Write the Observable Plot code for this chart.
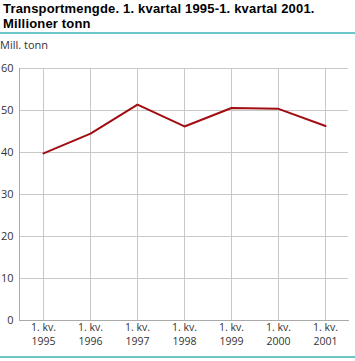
<!DOCTYPE html>
<html><head><meta charset="utf-8">
<script src="https://cdn.jsdelivr.net/npm/d3@7"></script>
<script src="https://cdn.jsdelivr.net/npm/@observablehq/plot@0.6"></script>
<style>
body{margin:0;background:#fff;width:355px;height:361px;position:relative;overflow:hidden;font-family:"Open Sans",sans-serif;}
.title{position:absolute;left:3px;font-family:"Liberation Sans",Arial,sans-serif;font-weight:bold;font-size:13px;line-height:14.6px;height:14.6px;color:#000;white-space:nowrap;letter-spacing:0.18px;}
#t1{top:2px;}
#t2{top:16.6px;}
#rule1{position:absolute;left:0;top:32px;width:355px;height:2px;background:#6cc8c8;}
#unit{position:absolute;left:0;top:37px;font-size:11px;color:#333;}
#chart{position:absolute;left:0;top:55px;}
#rule2{position:absolute;left:0;top:356px;width:355px;height:2px;background:#6cc8c8;}
</style></head><body>
<div class="title" id="t1">Transportmengde. 1. kvartal 1995-1. kvartal 2001.</div>
<div class="title" id="t2">Millioner tonn</div>
<div id="rule1"></div>
<div id="unit">Mill. tonn</div>
<div id="chart"></div>
<div id="rule2"></div>
<script>
const years = ["1995","1996","1997","1998","1999","2000","2001"];
const quarterLabel = "1. kv.";
const values = [39.8, 44.5, 51.4, 46.2, 50.6, 50.4, 46.3];
const yTicks = [0,10,20,30,40,50,60];
const data = years.map((y,i)=>({year: y, v: values[i]}));
const grid = "#c8c8c8";
const chart = Plot.plot({
  width: 355, height: 300,
  marginLeft: 19, marginRight: 7, marginTop: 13, marginBottom: 35,
  style: {fontFamily: '"Open Sans", sans-serif', fontSize: "11px", color: "#333", background: "#fff"},
  x: {type: "point", domain: years, padding: 0.5, label: null},
  y: {domain: [0, 60], label: null},
  marks: [
    Plot.gridY(yTicks, {stroke: grid, strokeOpacity: 1, strokeWidth: 1}),
    Plot.gridX(years, {stroke: grid, strokeOpacity: 1, strokeWidth: 1}),
    Plot.frame({anchor: "left", stroke: "#aaa"}),
    Plot.frame({anchor: "bottom", stroke: "#aaa"}),
    Plot.axisY(yTicks, {tickSize: 0, tickPadding: 6, fill: "#333"}),
    Plot.axisX(years, {tickSize: 0, tickPadding: 3, fill: "#333", fontSize: 10.5, tickFormat: () => quarterLabel}),
    Plot.axisX(years, {tickSize: 0, tickPadding: 17, fill: "#333", fontSize: 10.5}),
    Plot.line(data, {x: "year", y: "v", stroke: "#a00d12", strokeWidth: 2})
  ]
});
document.getElementById("chart").appendChild(chart);
</script>
</body></html>
